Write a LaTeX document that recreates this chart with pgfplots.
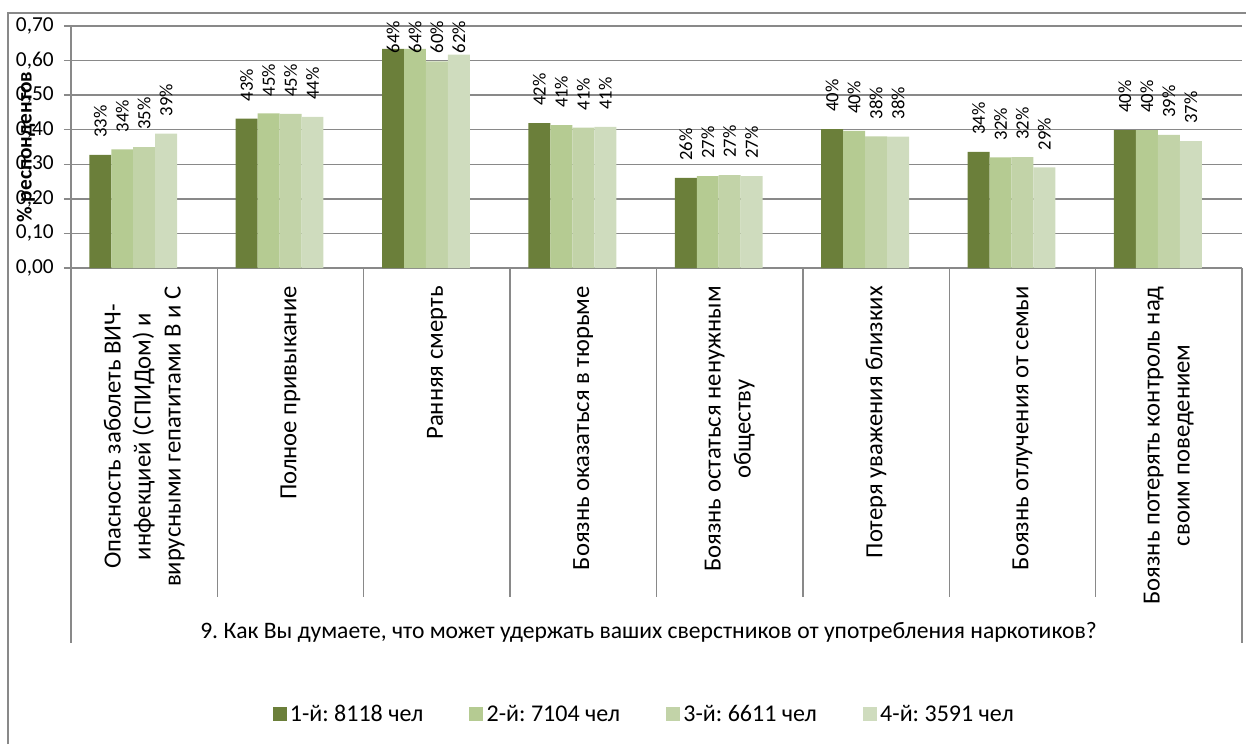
\documentclass[border=0pt]{standalone}
\usepackage{fontspec}
\setmainfont{Carlito}
\usepackage{pgfplots}
\pgfplotsset{compat=1.18}
\definecolor{serA}{HTML}{6B7F3A}
\definecolor{serB}{HTML}{B5CB92}
\definecolor{serC}{HTML}{C2D3A8}
\definecolor{serD}{HTML}{CFDCBE}
\definecolor{axisgray}{HTML}{898989}

\begin{document}
\frenchspacing
\begin{tikzpicture}
\path[use as bounding box] (0,0) rectangle (934.5pt,558pt);
% chart frame (right and bottom edges fall outside the picture)
\draw[axisgray, line width=0.9pt] (6pt,0pt) -- (6pt,548.25pt) -- (934.5pt,548.25pt);
\begin{axis}[
  at={(53.25pt,357pt)}, anchor=south west,
  scale only axis, width=878.25pt, height=181.5pt,
  ybar=0pt, bar width=0.15,
  xmin=-0.5, xmax=7.5, ymin=0, ymax=0.7,
  axis x line*=bottom, axis y line*=left,
  axis line style={axisgray, line width=1pt},
  ymajorgrids, grid style={axisgray, line width=1pt},
  ytick={0,0.1,0.2,0.3,0.4,0.5,0.6,0.7},
  tick align=outside, major tick length=5.25pt,
  ytick style={axisgray, line width=1pt},
  xtick style={draw=none},
  yticklabel style={font=\fontsize{16}{19}\selectfont, inner sep=0pt, xshift=-7.5pt,
    /pgf/number format/fixed, /pgf/number format/fixed zerofill,
    /pgf/number format/precision=2, /pgf/number format/use comma,
    /pgf/number format/assume math mode=true},
  xtick={0,1,2,3,4,5,6,7},
  xticklabels={{Опасность заболеть ВИЧ-\\инфекцией (СПИДом) и\\вирусными гепатитами В и С},
    {Полное привыкание}, {Ранняя смерть}, {Боязнь оказаться в тюрьме},
    {Боязнь остаться ненужным\\обществу}, {Потеря уважения близких},
    {Боязнь отлучения от семьи}, {Боязнь потерять контроль над\\своим поведением}},
  xticklabel style={font=\fontsize{18.5}{22.5}\selectfont, align=center, inner sep=0pt,
    yshift=-8.25pt, rotate=90, anchor=east},
  ylabel={\% респондентов},
  ylabel style={font=\bfseries\fontsize{16}{19}\selectfont, at={(axis description cs:0,0.5)},
    anchor=center, yshift=33.75pt},
  xlabel={9. Как Вы думаете, что может удержать ваших сверстников от употребления наркотиков?},
  xlabel style={font=\fontsize{17.7}{21}\selectfont, at={(axis description cs:0.5,0)},
    anchor=center, yshift=-273pt, xshift=-6pt},
  point meta=explicit symbolic,
  nodes near coords={\pgfplotspointmeta\%},
  visualization depends on={rawy \as \rawy},
  nodes near coords style={font=\fontsize{14}{16}\selectfont, inner sep=0pt,
    /utils/exec={\pgfmathsetmacro\lblgap{min(12.75,(0.70-\rawy)*259.29+3.75-24.2)}},
    yshift=\lblgap pt, rotate=90, anchor=west},
  legend columns=4,
  legend style={draw=none, fill=none, font=\fontsize{18}{21}\selectfont,
    at={(0.490,-1.843)}, anchor=center,
    nodes={inner sep=2.5pt},
    /tikz/every even column/.append style={column sep=32pt}},
  legend image code/.code={\fill[#1] (0pt,-5.25pt) rectangle (10.5pt,5.25pt);},
  clip=false,
]
\addplot[fill=serA, draw=none, bar shift=-0.3] coordinates {
  (0,0.327)[33] (1,0.432)[43] (2,0.634)[64] (3,0.419)[42]
  (4,0.261)[26] (5,0.402)[40] (6,0.336)[34] (7,0.399)[40]};
\addplot[fill=serB, draw=none, bar shift=-0.15] coordinates {
  (0,0.343)[34] (1,0.447)[45] (2,0.634)[64] (3,0.413)[41]
  (4,0.266)[27] (5,0.397)[40] (6,0.320)[32] (7,0.399)[40]};
\addplot[fill=serC, draw=none, bar shift=0] coordinates {
  (0,0.350)[35] (1,0.446)[45] (2,0.598)[60] (3,0.406)[41]
  (4,0.269)[27] (5,0.381)[38] (6,0.321)[32] (7,0.385)[39]};
\addplot[fill=serD, draw=none, bar shift=0.15] coordinates {
  (0,0.389)[39] (1,0.437)[44] (2,0.617)[62] (3,0.408)[41]
  (4,0.266)[27] (5,0.380)[38] (6,0.291)[29] (7,0.367)[37]};
\legend{1-й: 8118 чел, 2-й: 7104 чел, 3-й: 6611 чел, 4-й: 3591 чел}
% category separators below the axis
\pgfplotsinvokeforeach{0.5,1.5,2.5,3.5,4.5,5.5,6.5}{
  \draw[axisgray, line width=1pt] (axis cs:#1,0) -- ++(0pt,-246.75pt);}
\draw[axisgray, line width=1pt] (rel axis cs:0,0) -- ++(0pt,-281.25pt);
\draw[axisgray, line width=1pt] (rel axis cs:1,0) -- ++(0pt,-281.25pt);
\end{axis}
\end{tikzpicture}
\end{document}
